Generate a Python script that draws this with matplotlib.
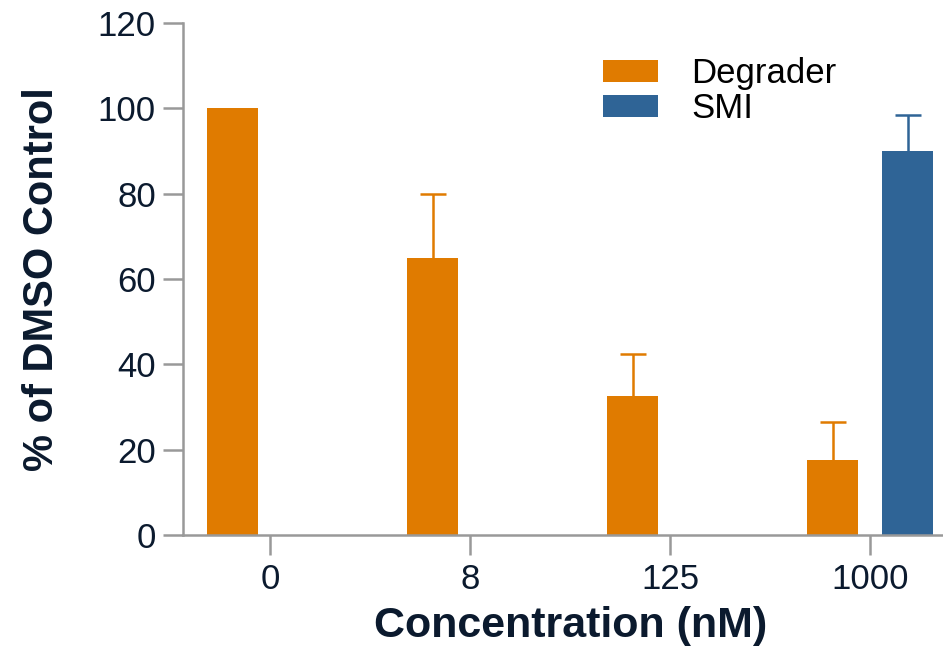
import matplotlib.pyplot as plt
import numpy as np

plt.rcParams['font.family'] = ['Liberation Sans', 'DejaVu Sans']

concentrations = ['0', '8', '125', '1000']
degrader_vals = [100, 65, 32.5, 17.5]
degrader_err = [0, 15, 10, 9]
smi_idx = [3]
smi_vals = [90]
smi_err = [8.5]

orange = '#E07B00'
blue = '#2F6496'
axis_grey = '#999999'
label_col = '#0B1A2E'

fig = plt.figure(figsize=(9.43, 6.51), dpi=100)
ax = fig.add_axes([0.194, 0.178, 0.806, 0.787])

x = np.arange(len(concentrations))
w = 0.255
deg_x = x - 0.185
smi_x = np.array(smi_idx) + 0.19
ax.bar(deg_x, degrader_vals, width=w, color=orange, label='Degrader', zorder=2)
ax.bar(smi_x, smi_vals, width=w, color=blue, label='SMI', zorder=2)


def upper_errorbar(xpos, vals, errs, color):
    xpos, vals, errs = np.asarray(xpos), np.asarray(vals), np.asarray(errs)
    keep = errs > 0
    eb = ax.errorbar(xpos[keep], vals[keep], yerr=[np.zeros(keep.sum()), errs[keep]],
                     fmt='none', ecolor=color, elinewidth=1.8, capsize=9.5,
                     capthick=1.8, zorder=1)
    # hide the cap sitting on the bar top
    eb[1][0].set_visible(False)
    return eb


upper_errorbar(deg_x, degrader_vals, degrader_err, orange)
upper_errorbar(smi_x, smi_vals, smi_err, blue)

ax.set_xlim(-0.435, 3.365)
ax.set_ylim(0, 120)
ax.set_yticks(np.arange(0, 121, 20))
ax.set_xticks(x)
ax.set_xticklabels(concentrations)

for side in ['top', 'right']:
    ax.spines[side].set_visible(False)
for side in ['left', 'bottom']:
    ax.spines[side].set_color(axis_grey)
    ax.spines[side].set_linewidth(1.8)

ax.tick_params(axis='both', direction='out', length=14.4, width=1.8, color=axis_grey,
               labelsize=25, labelcolor=label_col)
ax.tick_params(axis='y', pad=5)
ax.tick_params(axis='x', pad=6)

ax.set_xlabel('Concentration (nM)', fontsize=31, fontweight='bold', color=label_col)
ax.xaxis.set_label_coords(0.51, -0.138)
ax.set_ylabel('% of DMSO Control', fontsize=30, fontweight='bold', color=label_col, labelpad=26)

ax.legend(loc='upper left', bbox_to_anchor=(0.639, 0.912), bbox_transform=fig.transFigure,
          frameon=False, fontsize=25, handlelength=1.6, handleheight=0.6,
          handletextpad=0.95, labelspacing=0.05, borderpad=0, borderaxespad=0)

fig.savefig('out.png', dpi=100)
